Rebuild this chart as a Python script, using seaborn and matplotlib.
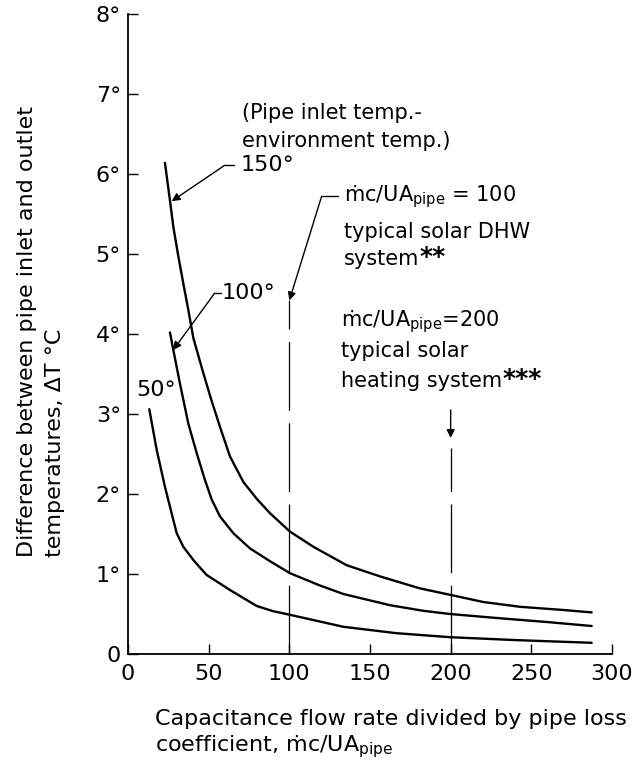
import matplotlib
matplotlib.use("Agg")
import matplotlib.pyplot as plt
import seaborn as sns
import pandas as pd

# ---- data ----
x_150 = [22.9, 26, 28.1, 31.2, 34.3, 37.4, 40.5, 46.7, 51.9, 57, 63.2, 71.5, 79.8, 88,
         100.4, 114.9, 135.5, 156.2, 181, 199.6, 220.2, 243, 269.8, 287.4]
y_150 = [6.14, 5.67, 5.34, 4.97, 4.63, 4.30, 3.95, 3.51, 3.16, 2.84, 2.47, 2.15, 1.94, 1.76,
         1.53, 1.34, 1.11, 0.97, 0.82, 0.74, 0.65, 0.59, 0.55, 0.52]

x_100 = [26, 28.1, 32.2, 37.4, 42.6, 47.7, 51.9, 57, 65.3, 75.6, 88, 100.4, 118.5, 133.5,
         162.4, 183, 199.6, 228.5, 259.5, 287.4]
y_100 = [4.02, 3.80, 3.38, 2.88, 2.51, 2.175, 1.93, 1.72, 1.51, 1.32, 1.16, 1.01, 0.86, 0.75,
         0.61, 0.54, 0.50, 0.45, 0.40, 0.35]

x_50 = [13.2, 17.8, 22.9, 28.1, 30.2, 34.3, 40.5, 48.6, 63.2, 79.8, 90, 100.4, 133.5, 166.5,
        199.6, 238.8, 287.4]
y_50 = [3.06, 2.55, 2.09, 1.675, 1.51, 1.34, 1.175, 0.99, 0.80, 0.60, 0.535, 0.49, 0.34, 0.26,
        0.21, 0.175, 0.14]

x_ticks = [0, 50, 100, 150, 200, 250, 300]
x_ticklabels = ["0", "50", "100", "150", "200", "250", "300"]
y_ticks = [0, 1, 2, 3, 4, 5, 6, 7, 8]
y_ticklabels = ["0", "1°", "2°", "3°", "4°", "5°", "6°", "7°", "8°"]

ref_x = [100, 200]          # reference mc/UA values (dashed lines)
ref_top = [4.42, 2.58]      # top of dashed lines

frames = []
for name, xs, ys in [("150°", x_150, y_150), ("100°", x_100, y_100), ("50°", x_50, y_50)]:
    frames.append(pd.DataFrame({"x": xs, "y": ys, "T": name}))
df = pd.concat(frames, ignore_index=True)

sns.set_style("ticks")
plt.rcParams["font.family"] = ["DejaVu Sans"]
plt.rcParams["mathtext.fontset"] = "dejavusans"
plt.rcParams["mathtext.default"] = "regular"
plt.rcParams["text.color"] = "black"
plt.rcParams["xtick.color"] = "black"
plt.rcParams["ytick.color"] = "black"
plt.rcParams["xtick.labelcolor"] = "black"
plt.rcParams["ytick.labelcolor"] = "black"

W, H = 636, 766
fig = plt.figure(figsize=(W / 100, H / 100), dpi=100)
ax = fig.add_axes([128 / W, 1 - 654 / H, 484 / W, 640 / H])

sns.lineplot(data=df, x="x", y="y", hue="T", palette=["black"] * 3, sort=False,
             estimator=None, lw=1.7, legend=False, ax=ax)

for xv, top in zip(ref_x, ref_top):
    ax.plot([xv, xv], [0, top], color="black", lw=0.9, dashes=(55, 10))

ax.set_xlim(0, 300)
ax.set_ylim(0, 8)
ax.set_xticks(x_ticks)
ax.set_xticklabels(x_ticklabels)
ax.set_yticks(y_ticks)
ax.set_yticklabels(y_ticklabels)
ax.tick_params(direction="in", length=7, width=1, labelsize=16, color="black")
ax.tick_params(axis="x", pad=7)
ax.tick_params(axis="y", pad=5)
ax.set_xlabel("")
ax.set_ylabel("")
for s in ["top", "right"]:
    ax.spines[s].set_visible(False)
for s in ["left", "bottom"]:
    ax.spines[s].set_linewidth(1.3)
    ax.spines[s].set_color("black")

arw = dict(arrowstyle="-|>", lw=1.0, color="black", mutation_scale=12, shrinkA=0, shrinkB=0)
fs = 15

# curve labels with leaders
ax.text(70.4, 6.76, "(Pipe inlet temp.-", fontsize=fs, va="center", ha="left")
ax.text(70.4, 6.41, "environment temp.)", fontsize=fs, va="center", ha="left")

ax.plot([60, 66], [6.11, 6.11], color="black", lw=1.0)
ax.annotate("", xy=(27.1, 5.66), xytext=(60, 6.11), arrowprops=arw)
ax.text(70, 6.11, "150°", fontsize=16, va="center", ha="left")

ax.plot([53.7, 57.8], [4.51, 4.51], color="black", lw=1.0)
ax.annotate("", xy=(28, 3.8), xytext=(53.7, 4.51), arrowprops=arw)
ax.text(58.3, 4.51, "100°", fontsize=16, va="center", ha="left")

ax.text(5.4, 3.3, "50°", fontsize=16, va="center", ha="left")

# mc/UA = 100 block
ax.plot([120, 130], [5.72, 5.72], color="black", lw=1.0)
ax.annotate("", xy=(100, 4.42), xytext=(120, 5.72), arrowprops=arw)
ax.text(134, 5.72, "ṁc/UA$_{pipe}$ = 100", fontsize=fs, va="center", ha="left")
ax.text(134, 5.27, "typical solar DHW", fontsize=fs, va="center", ha="left")
t1 = ax.text(134, 4.94, "system", fontsize=fs, va="center", ha="left")
ax.annotate("**", xy=(1.0, 1.2), xycoords=t1, fontsize=18, fontweight="bold",
            va="top", ha="left")

# mc/UA = 200 block
ax.text(132, 4.15, "ṁc/UA$_{pipe}$=200", fontsize=fs, va="center", ha="left")
ax.text(132, 3.79, "typical solar", fontsize=fs, va="center", ha="left")
t2 = ax.text(132, 3.41, "heating system", fontsize=fs, va="center", ha="left")
ax.annotate("***", xy=(1.0, 1.2), xycoords=t2, fontsize=18, fontweight="bold",
            va="top", ha="left")
ax.annotate("", xy=(200, 2.7), xytext=(200, 3.05), arrowprops=arw)

# axis titles
fig.text(41 / W, 1 - 557 / H, "Difference between pipe inlet and outlet\ntemperatures, ΔT °C",
         rotation=90, ha="center", va="bottom", multialignment="left", fontsize=16,
         linespacing=1.45)
fig.text(155 / W, 1 - 725 / H, "Capacitance flow rate divided by pipe loss",
         ha="left", va="baseline", fontsize=16)
fig.text(155 / W, 1 - 751 / H, "coefficient, ṁc/UA$_{pipe}$",
         ha="left", va="baseline", fontsize=16)

fig.savefig("out.png", dpi=100)
